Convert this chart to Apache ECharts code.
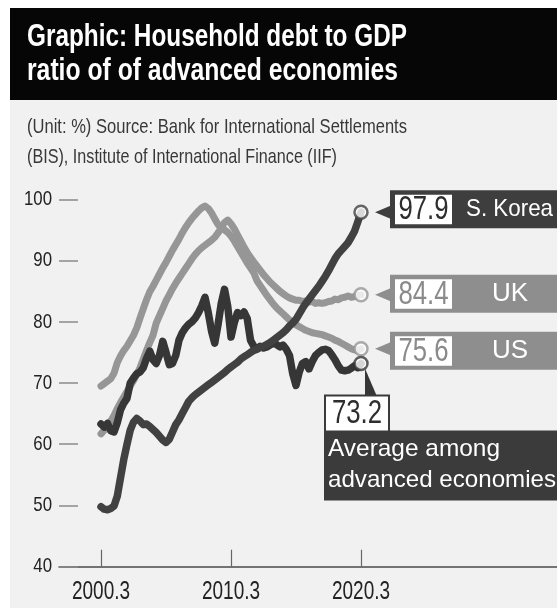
<!DOCTYPE html>
<html>
<head>
<meta charset="utf-8">
<title>Household debt to GDP ratio of advanced economies</title>
<script src="https://cdn.jsdelivr.net/npm/echarts@6/dist/echarts.min.js"></script>
<style>
  html, body { margin: 0; padding: 0; background: #ffffff; }
  #chart { width: 557px; height: 608px; }
</style>
</head>
<body>
<div id="chart"></div>
<script>
// Quarterly household debt to GDP (%), 2000 Q1 (March 2000) .. 2020 Q1 (March 2020)
const firstYear = 2000;

const korea = [
  49.8, 49.4, 49.3, 49.5, 49.9, 51.5, 54.5, 57.5, 60.0, 62.3,
  63.6, 64.2, 63.8, 63.2, 63.3, 62.9, 62.4, 61.9, 61.3, 60.7,
  60.3, 60.8, 62.0, 63.2, 64.0, 65.0, 66.0, 67.0, 67.6, 68.1,
  68.5, 68.9, 69.3, 69.7, 70.1, 70.5, 70.9, 71.3, 71.7, 72.2,
  72.6, 73.0, 73.4, 73.9, 74.3, 74.6, 75.0, 75.3, 75.5, 75.8,
  76.0, 76.3, 76.6, 77.0, 77.4, 77.8, 78.2, 78.7, 79.3, 79.8,
  80.4, 81.3, 82.2, 83.0, 83.7, 84.4, 85.1, 85.8, 86.6, 87.4,
  88.3, 89.3, 90.3, 91.1, 91.7, 92.3, 92.9, 93.8, 94.8, 96.3,
  97.9
];

const uk = [
  61.7, 62.3, 63.0, 63.8, 64.7, 65.8, 66.8, 67.7, 68.6, 69.5,
  70.4, 71.4, 72.5, 73.9, 75.3, 76.6, 77.8, 79.8, 81.0, 82.2,
  83.4, 84.4, 85.4, 86.3, 87.1, 87.9, 88.7, 89.5, 90.3, 91.0,
  91.6, 92.1, 92.5, 92.9, 93.3, 93.8, 94.5, 95.3, 96.2, 96.6,
  96.0, 95.2, 94.2, 93.2, 92.2, 91.3, 90.5, 89.8, 89.1, 88.4,
  87.7, 87.1, 86.5, 86.0, 85.5, 85.0, 84.6, 84.2, 83.9, 83.7,
  83.5, 83.5, 83.3, 83.4, 83.2, 83.3, 83.0, 83.1, 83.0, 83.1,
  83.3, 83.4, 83.7, 83.6, 83.9, 84.0, 84.2, 84.0, 84.1, 84.3,
  84.4
];

const us = [
  69.5, 69.9, 70.3, 70.7, 71.6, 73.3, 74.4, 75.3, 76.0, 76.9,
  77.8, 79.0, 80.6, 82.1, 83.6, 84.9, 85.8, 86.8, 87.8, 88.8,
  89.7, 90.7, 91.7, 92.6, 93.5, 94.5, 95.4, 96.2, 96.9, 97.5,
  98.1, 98.6, 98.9, 98.5, 97.8, 96.8, 95.9, 95.3, 95.0, 94.6,
  94.0, 93.2, 92.3, 91.4, 90.5, 89.6, 88.8, 88.0, 86.7, 85.9,
  85.1, 84.3, 83.6, 82.9, 82.3, 81.8, 81.3, 80.8, 80.3, 79.9,
  79.5, 79.2, 78.9, 78.6, 78.4, 78.2, 78.1, 78.0, 77.9, 77.7,
  77.5, 77.3, 77.0, 76.8, 76.5, 76.2, 75.9, 75.6, 75.4, 75.3,
  75.6
];

const average = [
  63.3, 62.8, 63.4, 62.2, 62.0, 63.5, 65.6, 66.7, 67.5, 70.0,
  70.8, 71.5, 71.8, 72.5, 74.0, 75.2, 73.8, 73.2, 74.5, 76.8,
  75.0, 73.0, 73.2, 74.5, 77.0, 78.2, 79.0, 79.6, 80.0, 80.6,
  81.5, 82.6, 84.0, 81.5, 78.5, 76.5, 79.5, 83.0, 85.3, 82.5,
  77.5, 79.8, 81.5, 81.0, 81.6, 80.5, 77.0, 76.0, 75.6, 76.0,
  75.7, 75.9, 76.2, 76.5, 76.3, 75.9, 76.2, 75.5, 74.5, 71.5,
  69.6, 71.8, 73.2, 73.5, 72.3, 73.5, 74.5, 75.0, 75.4, 75.5,
  75.3, 74.6, 73.8, 72.8, 72.1, 72.0, 72.1, 72.4, 72.8, 72.5,
  73.2
];

const seriesNames = ['S. Korea', 'UK', 'US', 'Average among', 'advanced economies'];
const yTickValues = [40, 50, 60, 70, 80, 90, 100];
const xTickValues = [2000, 2010, 2020];
const xTickLabels = ['2000.3', '2010.3', '2020.3'];

const titleLines = ['Graphic: Household debt to GDP', 'ratio of of advanced economies'];
const sourceLines = ['(Unit: %) Source: Bank for International Settlements',
                     '(BIS), Institute of International Finance (IIF)'];

// ---------- helpers ----------
const quarterX = korea.map((_, i) => firstYear + i / 4);
const toPoints = arr => arr.map((v, i) => [quarterX[i], v]);
const lastPoint = arr => [quarterX[arr.length - 1], arr[arr.length - 1]];

const measureCtx = document.createElement('canvas').getContext('2d');
function textWidth(text, font) { measureCtx.font = font; return measureCtx.measureText(text).width; }
const SANS = '"Liberation Sans", Arial, sans-serif';
const NARROW_SCALE = 0.78;   // condensed look for numerals

const DARK_KR = '#414141';
const DARK_AVG = '#363636';
const LIGHT = '#969696';
const BOX_LIGHT = '#8e8e8e';

const chart = echarts.init(document.getElementById('chart'), null, { renderer: 'canvas' });

const pxPerYear = 13;
const axisLeft = 59;

const lineSeries = (name, arr, color, width, z) => ({
  name, type: 'line', data: toPoints(arr), showSymbol: false, symbol: 'none',
  clip: false, z, silent: true,
  lineStyle: { color, width, cap: 'round', join: 'round' }
});

chart.setOption({
  animation: false,
  backgroundColor: '#ffffff',
  grid: { left: axisLeft, right: 0, top: 199.3, bottom: 41.3, containLabel: false },
  xAxis: {
    type: 'value',
    min: firstYear - (101 - axisLeft) / pxPerYear,
    max: firstYear + (557 - 101) / pxPerYear,
    splitLine: { show: false },
    axisLine: { show: true, lineStyle: { color: '#4a4a4a', width: 1.5 } },
    axisTick: { show: true, inside: true, length: 17, customValues: xTickValues,
                lineStyle: { color: '#666666', width: 1.2 } },
    axisLabel: { show: false }
  },
  yAxis: {
    type: 'value', min: 40, max: 100, interval: 10,
    splitLine: { show: false },
    axisLine: { show: false },
    axisTick: { show: true, inside: true, length: 19, lineStyle: { color: '#8a8a8a', width: 1.5 } },
    axisLabel: { show: false }
  },
  series: [
    lineSeries(seriesNames[1], uk, LIGHT, 7, 2),
    lineSeries(seriesNames[2], us, LIGHT, 7, 3),
    lineSeries(seriesNames[3], average, DARK_AVG, 7.5, 4),
    lineSeries(seriesNames[0], korea, DARK_KR, 7.5, 5),
    {
      type: 'scatter', z: 10, silent: true, symbol: 'circle', symbolSize: 13,
      data: [
        { value: lastPoint(uk), itemStyle: { borderColor: LIGHT } },
        { value: lastPoint(us), itemStyle: { borderColor: LIGHT } },
        { value: lastPoint(average), itemStyle: { borderColor: DARK_AVG } },
        { value: lastPoint(korea), itemStyle: { borderColor: DARK_KR } }
      ],
      itemStyle: { color: '#ffffff', borderWidth: 2.5 }
    }
  ]
});

// ---------- text and annotation boxes ----------
function txt(x, y, text, o) {
  const font = `${o.weight || 'normal'} ${o.size}px ${o.family}`;
  let scaleX = o.scale || 1;
  if (o.width) scaleX = o.width / textWidth(text, font);
  return {
    type: 'text', x, y, scaleX, z: 120,
    style: {
      text, fill: o.color, fontSize: o.size, fontFamily: o.family, fontWeight: o.weight || 'normal',
      align: o.align || 'left', verticalAlign: 'middle',
      textAlign: o.align || 'left', textVerticalAlign: 'middle'
    }
  };
}
const rect = (x, y, w, h, fill, extra) => Object.assign(
  { type: 'rect', z: 110, shape: { x, y, width: w, height: h }, style: { fill } }, extra || {});
const poly = (points, fill) => ({ type: 'polygon', z: 110, shape: { points }, style: { fill } });
const toPx = pt => chart.convertToPixel({ gridIndex: 0 }, pt);

// axis tick labels, placed through the axis scales
function axisLabels() {
  const out = [];
  yTickValues.forEach(v => {
    const [, py] = toPx([firstYear, v]);
    out.push(txt(52, py, String(v), { size: 21, family: SANS, color: '#222222', align: 'right', scale: 0.8 }));
  });
  xTickValues.forEach((v, i) => {
    const [px] = toPx([v, 40]);
    out.push(txt(px, 592, xTickLabels[i], { size: 25, family: SANS, color: '#222222', align: 'center', scale: 0.76 }));
  });
  return out;
}

function sideLabel(arr, boxColor, valueColor, name, nameOpt, boxDy) {
  const [cx, cy] = toPx(lastPoint(arr));
  const by = cy + boxDy;
  const value = arr[arr.length - 1].toFixed(1);
  return [
    poly([[cx + 14, cy], [cx + 29.5, cy - 6.5], [cx + 29.5, cy + 6.5]], boxColor),
    rect(cx + 29, by - 19, 220, 38, boxColor),
    rect(cx + 34, by - 14.5, 57, 29.5, '#ffffff'),
    txt(cx + 62.5, by + 1, value, { size: 33, family: SANS, color: valueColor, align: 'center', scale: NARROW_SCALE }),
    txt(cx + nameOpt.dx, by, name, { size: nameOpt.size, family: SANS, color: '#ffffff',
                                    align: nameOpt.align, width: nameOpt.width })
  ];
}

function averageLabel(arr) {
  const [cx, cy] = toPx(lastPoint(arr));
  const value = arr[arr.length - 1].toFixed(1);
  return [
    poly([[cx + 4, cy + 5], [cx + 4, cy + 33], [cx + 16, cy + 33]], DARK_AVG),
    rect(cx - 37, cy + 67, 240, 70, '#3b3b3b'),
    rect(cx - 36, cy + 32, 64, 36, '#ffffff', { style: { fill: '#ffffff', stroke: '#3b3b3b', lineWidth: 2 } }),
    txt(cx - 4, cy + 51, value, { size: 33, family: SANS, color: '#2e2e2e', align: 'center', scale: NARROW_SCALE }),
    txt(cx - 33, cy + 86, seriesNames[3], { size: 24, family: SANS, color: '#ffffff', width: 172 }),
    txt(cx - 33, cy + 117, seriesNames[4], { size: 24, family: SANS, color: '#ffffff', width: 228 })
  ];
}

const graphics = [
  // page panels
  rect(10, 100, 547, 508, '#f1f1f1', { z: -10 }),
  rect(10, 8, 547, 92, '#060606', { z: -10 }),
  txt(27, 37, titleLines[0], { size: 32, family: SANS, weight: 'bold', color: '#ffffff', width: 380 }),
  txt(27, 71, titleLines[1], { size: 32, family: SANS, weight: 'bold', color: '#ffffff', width: 371 }),
  txt(27, 127, sourceLines[0], { size: 21, family: SANS, color: '#383838', width: 380 }),
  txt(27, 157, sourceLines[1], { size: 21, family: SANS, color: '#383838', width: 310 }),
  ...axisLabels(),
  ...sideLabel(korea, '#3e3e3e', '#2e2e2e', seriesNames[0], { dx: 105, size: 24, align: 'left', width: 87 }, -3),
  ...sideLabel(uk, BOX_LIGHT, '#8a8a8a', seriesNames[1], { dx: 149, size: 26, align: 'center' }, -1),
  ...sideLabel(us, BOX_LIGHT, '#8a8a8a', seriesNames[2], { dx: 149, size: 26, align: 'center' }, 2),
  ...averageLabel(average)
];

chart.setOption({ graphic: { elements: graphics } });
</script>
</body>
</html>
